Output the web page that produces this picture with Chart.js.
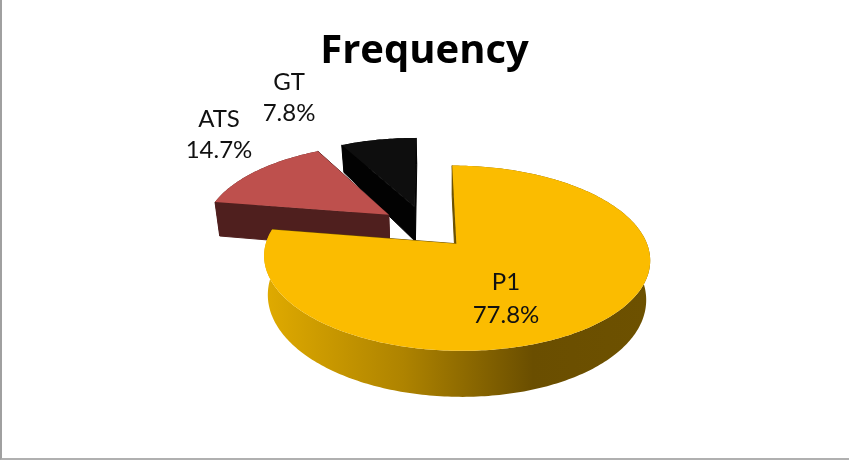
<!DOCTYPE html>
<html>
<head>
<meta charset="utf-8">
<style>
html,body{margin:0;padding:0;background:#fff;}
#frame{position:relative;width:849px;height:460px;overflow:hidden;}
#frame canvas{position:absolute;left:0;top:0;}
#edge{position:absolute;left:0;top:0;width:847px;height:458px;border-left:2px solid #a0a0a0;border-bottom:2px solid #b0b0b0;pointer-events:none;}
</style>
<script src="https://cdn.jsdelivr.net/npm/chart.js@4"></script>
</head>
<body>
<div id="frame"><canvas id="c" width="849" height="460"></canvas><div id="edge"></div></div>
<script>
const categories = ["P1", "ATS", "GT"];
const percentages = [77.8, 14.7, 7.8];
const sliceOffsets = [34, 34, 34];
const topColors = ["#FBBC00", "#BE504D", "#0E0E0E"];
const wallColors = ["#6B5000", "#4F1F1E", "#020202"];
const titleText = "Frequency";

const view = {dx: 1, xs: 1.361, ys: 0.6265, k: 0.152, vanishX: 450, shrink: 0.98, depth: 36.4, depthSlope: 8.1};
const labelSpots = [[506, 282, 315], [219, 119, 150], [289, 82, 113]];

function projector(el) {
  const R = el.outerRadius;
  return function (u, v, lower) {
    const w = 1 - view.k * v;
    let x = el.x + view.dx + R * view.xs * u / w;
    let y = el.y + R * view.ys * v / w;
    if (lower) {
      x = view.vanishX + (x - view.vanishX) * view.shrink;
      y += view.depth + view.depthSlope * v;
    }
    return [x, y];
  };
}

function trace(ctx, pts) {
  ctx.beginPath();
  pts.forEach((p, i) => i ? ctx.lineTo(p[0], p[1]) : ctx.moveTo(p[0], p[1]));
  ctx.closePath();
}

function drawSlice(ctx, el, index, sideFill) {
  const proj = projector(el);
  const R = el.outerRadius;
  const a0 = el.startAngle, a1 = el.endAngle, mid = (a0 + a1) / 2;
  const d = el.options.offset / R;
  const au = d * Math.cos(mid), av = d * Math.sin(mid);
  const n = Math.max(24, Math.round((a1 - a0) * 60));
  const rim = [];
  for (let i = 0; i <= n; i++) {
    const a = a0 + (a1 - a0) * i / n;
    rim.push([au + Math.cos(a), av + Math.sin(a)]);
  }
  const up = p => proj(p[0], p[1], false);
  const down = p => proj(p[0], p[1], true);
  const apex = [au, av];

  // outer wall
  ctx.fillStyle = sideFill || wallColors[index];
  trace(ctx, rim.map(up).concat(rim.slice().reverse().map(down)));
  ctx.fill();

  // cut walls
  ctx.fillStyle = wallColors[index];
  ctx.strokeStyle = wallColors[index];
  ctx.lineWidth = 1;
  [rim[rim.length - 1], rim[0]].forEach(edge => {
    trace(ctx, [up(apex), up(edge), down(edge), down(apex)]);
    ctx.fill();
    ctx.stroke();
  });

  // top face
  ctx.fillStyle = topColors[index];
  trace(ctx, [up(apex)].concat(rim.map(up)));
  ctx.fill();
}

const pie3d = {
  id: "pie3d",
  beforeDatasetDraw(chart, args) {
    const ctx = chart.ctx;
    const arcs = chart.getDatasetMeta(args.index).data;
    const grad = ctx.createLinearGradient(267, 0, 647, 0);
    grad.addColorStop(0, "#DFAA00");
    grad.addColorStop(0.36, "#AE8300");
    grad.addColorStop(0.70, "#6A4E00");
    grad.addColorStop(1, "#6D5100");
    ctx.save();
    [2, 1, 0].forEach(i => drawSlice(ctx, arcs[i], i, i === 0 ? grad : null));
    ctx.restore();
    return false;
  },
  afterDatasetsDraw(chart) {
    const ctx = chart.ctx;
    ctx.save();
    ctx.fillStyle = "#111";
    ctx.font = "24px Lato, Carlito, sans-serif";
    ctx.textAlign = "center";
    ctx.textBaseline = "middle";
    categories.forEach((name, i) => {
      const s = labelSpots[i];
      ctx.fillText(name, s[0], s[1]);
      ctx.fillText(percentages[i].toFixed(1) + "%", s[0], s[2]);
    });
    ctx.restore();
  }
};

new Chart(document.getElementById("c"), {
  type: "pie",
  data: {
    labels: categories,
    datasets: [{data: percentages, offset: sliceOffsets, backgroundColor: topColors, borderWidth: 0, hoverOffset: 0}]
  },
  options: {
    responsive: false,
    animation: false,
    devicePixelRatio: 1,
    events: [],
    layout: {padding: {bottom: 80}},
    plugins: {
      legend: {display: false},
      tooltip: {enabled: false},
      title: {
        display: true,
        text: titleText,
        color: "#000",
        font: {family: "'Open Sans', Lato, sans-serif", size: 40, weight: "bold"},
        padding: {top: 28, bottom: -2}
      }
    }
  },
  plugins: [pie3d]
});
</script>
</body>
</html>
